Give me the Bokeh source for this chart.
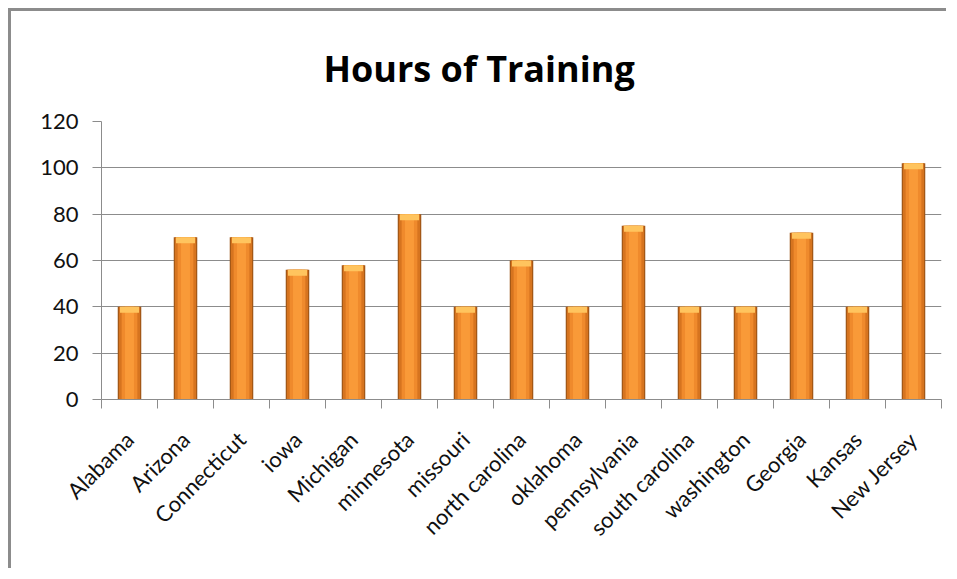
import math
from bokeh.plotting import figure
from bokeh.models import ColumnDataSource, FixedTicker, Range1d, Title
from bokeh.embed import file_html
from bokeh.resources import INLINE

states = ["Alabama", "Arizona", "Connecticut", "iowa", "Michigan", "minnesota",
          "missouri", "north carolina", "oklahoma", "pennsylvania",
          "south carolina", "washington", "Georgia", "Kansas", "New Jersey"]
hours = [40, 70, 70, 56, 58, 80, 40, 60, 40, 75, 40, 40, 72, 40, 102]
y_ticks = [0, 20, 40, 60, 80, 100, 120]

n = len(states)
centers = [i + 0.5 for i in range(n)]
src = ColumnDataSource(dict(x=centers, top=hours,
                            cap=[h - 2.6 for h in hours]))

p = figure(width=938, height=560, output_backend="svg", toolbar_location=None,
           x_range=Range1d(0, n), y_range=Range1d(0, 120),
           min_border_left=90, min_border_right=8, min_border_top=110,
           min_border_bottom=172,
           styles={"margin-left": "8px", "margin-top": "8px",
                   "border-left": "3px solid #8c8c8c",
                   "border-top": "3px solid #8c8c8c"})
p.outline_line_color = None
p.background_fill_color = "white"
p.border_fill_color = "white"

# bars: layered to imitate the bevelled gradient
p.vbar(x="x", top="top", bottom=0, width=0.42, source=src,
       fill_color="#9c5416", line_color=None)
p.vbar(x="x", top="top", bottom=0, width=0.38, source=src,
       fill_color="#d6741f", line_color=None)
p.vbar(x="x", top="top", bottom=0, width=0.28, source=src,
       fill_color="#ef8a2c", line_color=None)
p.vbar(x="x", top="top", bottom=0, width=0.16, source=src,
       fill_color="#f99a38", line_color=None)
p.vbar(x="x", top="top", bottom="cap", width=0.34, source=src,
       fill_color="#ffc45e", line_color=None)

font = "Lato"

# x axis: ticks at category boundaries (minor), labels at centers
xt = FixedTicker(ticks=centers, minor_ticks=list(range(n + 1)))
p.xaxis.ticker = xt
p.xaxis.major_label_overrides = {c: s for c, s in zip(centers, states)}
p.xaxis.major_label_orientation = math.pi / 4
p.xaxis.major_tick_out = 0
p.xaxis.major_tick_in = 0
p.xaxis.minor_tick_out = 9
p.xaxis.minor_tick_in = 0
p.xaxis.minor_tick_line_color = "#8c8c8c"
p.xaxis.axis_line_color = "#8c8c8c"
p.xaxis.major_label_standoff = 27
p.xaxis.major_label_text_font = font
p.xaxis.major_label_text_font_size = "22px"
p.xaxis.major_label_text_color = "#111111"

p.yaxis.ticker = FixedTicker(ticks=y_ticks)
p.yaxis.major_tick_out = 9
p.yaxis.major_tick_in = 0
p.yaxis.minor_tick_line_color = None
p.yaxis.major_tick_line_color = "#8c8c8c"
p.yaxis.axis_line_color = "#8c8c8c"
p.yaxis.major_label_standoff = 14
p.yaxis.major_label_text_font = font
p.yaxis.major_label_text_font_size = "22px"
p.yaxis.major_label_text_color = "#111111"

p.xgrid.grid_line_color = None
p.ygrid.grid_line_color = "#8c8c8c"
p.ygrid.grid_line_width = 1

t = Title(text="Hours of Training", align="left", offset=222,
          text_font="Open Sans", text_font_style="bold", text_font_size="36px",
          text_color="#000000", standoff=58)
p.add_layout(t, "above")

open("out.html", "w").write(file_html(p, INLINE))
